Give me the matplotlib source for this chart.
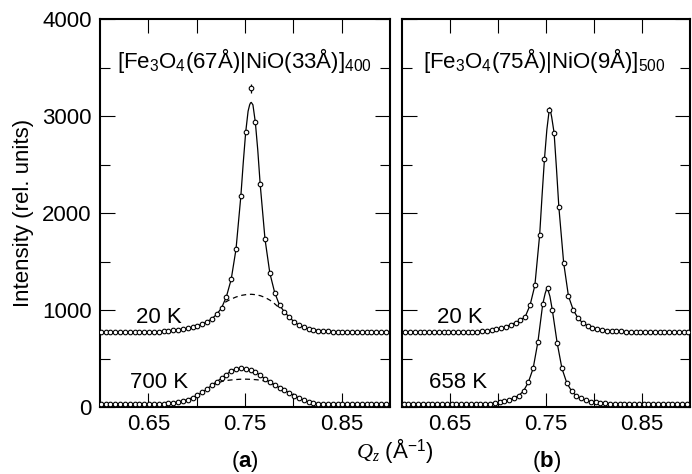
import numpy as np
import matplotlib
matplotlib.use('Agg')
import matplotlib.pyplot as plt
from matplotlib.ticker import MultipleLocator, FixedLocator, FixedFormatter

plt.rcParams['font.family'] = ['Liberation Sans', 'DejaVu Sans']
plt.rcParams['mathtext.fontset'] = 'custom'
plt.rcParams['mathtext.rm'] = 'Liberation Sans'
plt.rcParams['mathtext.it'] = 'Liberation Serif:italic'
plt.rcParams['mathtext.bf'] = 'Liberation Sans:bold'

# ---------------- data ----------------
# measurement grids (Q_z, 1/Angstrom)
q_a = np.round(0.6007 + 0.005 * np.arange(60), 4)      # panel (a)
q_b20 = np.round(0.6034 + 0.005 * np.arange(60), 4)    # panel (b), 20 K
q_b658 = np.round(0.6016 + 0.005 * np.arange(60), 4)   # panel (b), 658 K

# panel (a) 20 K data
i_a20 = [770, 770, 770, 770, 770, 771, 771, 772, 772, 773,
         774, 776, 778, 781, 785, 790, 796, 803, 812, 823,
         837, 855, 878, 910, 955, 1020, 1136, 1315, 1627, 2173,
         2832, 3285, 2935, 2297, 1730, 1380, 1180, 1050, 981, 927,
         879, 845, 820, 805, 795, 788, 783, 780, 778, 776,
         775, 774, 773, 772, 772, 771, 771, 770, 770, 770]
# panel (a) 700 K data
i_a700 = [30, 30, 30, 30, 30, 30, 30, 30, 31, 31,
          32, 32, 33, 35, 38, 44, 51, 62, 77, 97,
          121, 151, 186, 224, 262, 295, 335, 372, 393, 400,
          394, 380, 360, 328, 290, 258, 228, 198, 171, 148,
          118, 92, 68, 50, 40, 35, 32, 31, 30, 30,
          30, 30, 30, 30, 30, 30, 30, 30, 30, 30]
# panel (b) 20 K data
i_b20 = [771, 771, 771, 771, 771, 771, 771, 771, 771, 771,
         771, 772, 773, 774, 776, 778, 781, 786, 792, 800,
         810, 827, 848, 870, 895, 932, 1050, 1253, 1775, 2557,
         3066, 2829, 2060, 1486, 1143, 1000, 915, 865, 838, 818,
         805, 794, 788, 784, 781, 779, 777, 776, 775, 774,
         773, 772, 772, 772, 772, 772, 772, 772, 772, 772]
# panel (b) 658 K data
i_b658 = [27, 27, 27, 27, 27, 27, 27, 27, 27, 27,
          27, 27, 27, 27, 28, 29, 31, 33, 36, 40,
          47, 58, 72, 92, 118, 165, 255, 398, 673, 1061,
          1222, 999, 662, 398, 250, 165, 115, 88, 68, 56,
          48, 42, 38, 35, 32, 30, 29, 28, 28, 27,
          27, 27, 27, 27, 27, 27, 27, 27, 27, 27]

# error bar on the top point of panel (a) 20 K
err_q_a20 = [0.7557]
err_i_a20 = [3285]
err_a20 = [45]

# fit curves: extra samples near the peak tops
fitpk_q_a20 = [0.7482, 0.7532, 0.7548, 0.7557, 0.7565, 0.7582, 0.7632]
fitpk_i_a20 = [2520, 3050, 3115, 3135, 3140, 3115, 2650]
fitpk_q_b20 = [0.7459, 0.7509, 0.7540, 0.7559, 0.7609]
fitpk_i_b20 = [2180, 2860, 3085, 2990, 2460]
fitpk_q_b658 = [0.7491, 0.7512, 0.7541]
fitpk_i_b658 = [1170, 1232, 1140]

# broad components (dashed)
dash_q_a20 = [0.7295, 0.7350, 0.7410, 0.7470, 0.7520, 0.7565, 0.7610, 0.7660, 0.7710, 0.7760, 0.7800, 0.7840]
dash_i_a20 = [1080, 1110, 1135, 1152, 1160, 1162, 1158, 1147, 1128, 1100, 1070, 1035]
dash_q_a700 = [0.7150, 0.7210, 0.7270, 0.7330, 0.7390, 0.7450, 0.7510, 0.7570, 0.7630, 0.7690, 0.7750, 0.7810, 0.7850]
dash_i_a700 = [215, 245, 266, 276, 282, 286, 287, 285, 280, 271, 258, 225, 198]

ticks_x = [0.65, 0.70, 0.75, 0.80, 0.85]
ticklabels_x = ['0.65', '', '0.75', '', '0.85']

FS = 16

# ---------------- plotting ----------------
fig = plt.figure(figsize=(6.92, 4.74), dpi=100)
ax1 = fig.add_axes([100 / 692, 67 / 474, 290 / 692, 388 / 474])
ax2 = fig.add_axes([402 / 692, 67 / 474, 288 / 692, 388 / 474])

mk = dict(marker='o', ms=3.3, mfc='white', mec='black', mew=0.8, ls='none', zorder=3)
ln = dict(color='black', lw=0.9, zorder=2)
dl = dict(color='black', lw=0.9, ls=(0, (4, 3)), zorder=2)


def fitline(q, i, qx, ix, drop=None):
    q = list(q)
    i = list(i)
    if drop is not None:
        idx = q.index(drop)
        q.pop(idx)
        i.pop(idx)
    qq = np.array(q + list(qx))
    ii = np.array(i + list(ix))
    o = np.argsort(qq)
    return qq[o], ii[o]


# panel (a)
fq, fi = fitline(q_a, i_a20, fitpk_q_a20, fitpk_i_a20, drop=0.7557)
ax1.plot(fq, fi, **ln)
ax1.plot(q_a, i_a700, **ln)
ax1.plot(dash_q_a20, dash_i_a20, **dl)
ax1.plot(dash_q_a700, dash_i_a700, **dl)
ax1.errorbar(err_q_a20, err_i_a20, yerr=err_a20, fmt='none', ecolor='black', elinewidth=0.9, capsize=0, zorder=2.5)
ax1.plot(q_a, i_a20, **mk)
ax1.plot(q_a, i_a700, **mk)

# panel (b)
fq, fi = fitline(q_b20, i_b20, fitpk_q_b20, fitpk_i_b20)
ax2.plot(fq, fi, **ln)
fq, fi = fitline(q_b658, i_b658, fitpk_q_b658, fitpk_i_b658)
ax2.plot(fq, fi, **ln)
ax2.plot(q_b20, i_b20, **mk)
ax2.plot(q_b658, i_b658, **mk)

for ax in (ax1, ax2):
    ax.set_xlim(0.6, 0.9)
    ax.set_ylim(0, 4000)
    ax.xaxis.set_major_locator(FixedLocator(ticks_x))
    ax.xaxis.set_major_formatter(FixedFormatter(ticklabels_x))
    ax.yaxis.set_major_locator(MultipleLocator(1000))
    ax.yaxis.set_minor_locator(MultipleLocator(500))
    ax.tick_params(which='both', direction='in', top=True, right=True, width=0.8, labelsize=FS)
    ax.tick_params(axis='x', which='major', length=10, pad=5)
    ax.tick_params(axis='y', which='major', length=11, pad=6)
    ax.tick_params(axis='y', which='minor', length=7)
    for s in ax.spines.values():
        s.set_linewidth(1.5)
ax2.tick_params(labelleft=False)

ax1.set_ylabel('Intensity (rel. units)', fontsize=FS, labelpad=6)

ax1.text(0.7495, 3490, r'[Fe$_3$O$_4$(67Å)|NiO(33Å)]$_{400}$', ha='center', va='baseline', fontsize=FS)
ax2.text(0.748, 3490, r'[Fe$_3$O$_4$(75Å)|NiO(9Å)]$_{500}$', ha='center', va='baseline', fontsize=FS)
ax1.text(0.661, 862, '20 K', ha='center', va='baseline', fontsize=FS)
ax1.text(0.661, 192, '700 K', ha='center', va='baseline', fontsize=FS)
ax2.text(0.660, 862, '20 K', ha='center', va='baseline', fontsize=FS)
ax2.text(0.658, 192, '658 K', ha='center', va='baseline', fontsize=FS)

fig.text(395 / 692, (474 - 458) / 474, r'$Q_z$ (Å$^{-1}$)', ha='center', va='baseline', fontsize=FS)
fig.text(245 / 692, (474 - 467) / 474, r'($\mathbf{a}$)', ha='center', va='baseline', fontsize=FS)
fig.text(546.5 / 692, (474 - 467) / 474, r'($\mathbf{b}$)', ha='center', va='baseline', fontsize=FS)

fig.savefig('out.png', dpi=100)
